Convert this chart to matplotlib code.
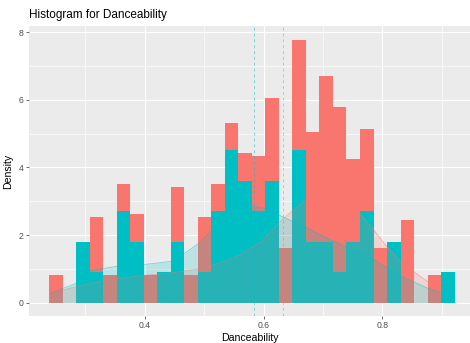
import numpy as np
import matplotlib
matplotlib.use("Agg")
from matplotlib import pyplot as plt

plt.rcParams['font.family'] = ['Liberation Sans', 'DejaVu Sans']

# histogram bins (bins=30)
bin_start = 0.23872
bin_width = 0.02276
n_bins = 30

# stacked density heights per bin (teal at bottom, red stacked on top)
teal_hist = [0, 0, 1.80, 0.90, 0, 2.71, 1.80, 0, 0.90, 1.80,
             0, 0.90, 2.71, 4.51, 3.61, 2.71, 3.61, 0, 4.51, 1.80,
             1.80, 0.90, 1.80, 2.71, 0, 1.80, 0, 0, 0, 0.90]
red_hist = [0.81, 0, 0, 1.63, 0.81, 0.81, 0.81, 0.81, 0, 1.63,
            0.81, 1.63, 0.81, 0.81, 0.81, 1.63, 2.44, 1.63, 3.26, 3.26,
            4.89, 4.89, 2.44, 2.44, 1.63, 0, 2.44, 0, 0.81, 0]

# density curves
teal_dx = [0.240, 0.284, 0.309, 0.353, 0.398, 0.443, 0.466, 0.490, 0.510, 0.540, 0.565,
           0.583, 0.600, 0.631, 0.673, 0.712, 0.746, 0.785, 0.830, 0.875, 0.897]
teal_dy = [0.27, 0.57, 0.95, 1.08, 1.13, 1.22, 1.45, 1.75, 2.10, 2.60, 2.88,
           2.85, 2.80, 2.55, 2.21, 1.87, 1.59, 1.28, 0.79, 0.44, 0.31]
red_dx = [0.240, 0.290, 0.340, 0.392, 0.443, 0.465, 0.500, 0.527, 0.561, 0.583, 0.600,
          0.631, 0.667, 0.690, 0.720, 0.7615, 0.785, 0.807, 0.830, 0.852, 0.875, 0.897]
red_dy = [0.27, 0.50, 0.68, 0.80, 0.88, 0.93, 1.03, 1.18, 1.42, 1.67, 1.87,
          2.46, 3.00, 3.10, 3.00, 2.65, 2.16, 1.67, 1.23, 0.93, 0.64, 0.39]

# group means
teal_mean = 0.5844
red_mean = 0.6326

red = "#F8766D"
teal = "#00BFC4"

fig = plt.figure(figsize=(4.7, 3.43), dpi=100)
ax = fig.add_axes([0.0611, 0.0787, 0.939, 0.8455])
ax.set_facecolor("#EBEBEB")
for s in ax.spines.values():
    s.set_visible(False)

ax.set_xticks([0.4, 0.6, 0.8])
ax.set_xticks([0.3, 0.5, 0.7, 0.9], minor=True)
ax.set_yticks([0, 2, 4, 6, 8])
ax.set_yticks([1, 3, 5, 7], minor=True)
ax.grid(True, which="major", color="white", linewidth=0.8)
ax.grid(True, which="minor", color="white", linewidth=0.4)
ax.set_axisbelow(True)

lefts = bin_start + bin_width * np.arange(n_bins)
ax.bar(lefts, teal_hist, width=bin_width, align="edge", color=teal, linewidth=0)
ax.bar(lefts, red_hist, width=bin_width, align="edge", bottom=teal_hist, color=red, linewidth=0)

ax.fill_between(red_dx, 0, red_dy, color=red, alpha=0.2, linewidth=0)
ax.plot(red_dx, red_dy, color=red, alpha=0.5, linewidth=0.6)
ax.fill_between(teal_dx, 0, teal_dy, color=teal, alpha=0.2, linewidth=0)
ax.plot(teal_dx, teal_dy, color=teal, alpha=0.5, linewidth=0.6)

ax.axvline(red_mean, color=red, alpha=0.5, linewidth=0.7, dashes=(3, 3))
ax.axvline(teal_mean, color=teal, alpha=0.5, linewidth=0.7, dashes=(3, 3))

ax.set_xlim(0.2046, 0.9474)
ax.set_ylim(-0.39, 8.18)

ax.tick_params(which="major", length=2, width=0.5, color="#333333",
               labelcolor="#4D4D4D", labelsize=6.2, pad=1.5)
ax.tick_params(which="minor", length=0)

ax.set_xlabel("Danceability", fontsize=7.6, labelpad=2)
ax.set_ylabel("Density", fontsize=7.6, labelpad=4)
ax.set_title("Histogram for Danceability", fontsize=8.5, loc="left", pad=6)

fig.savefig("out.png", dpi=100)
